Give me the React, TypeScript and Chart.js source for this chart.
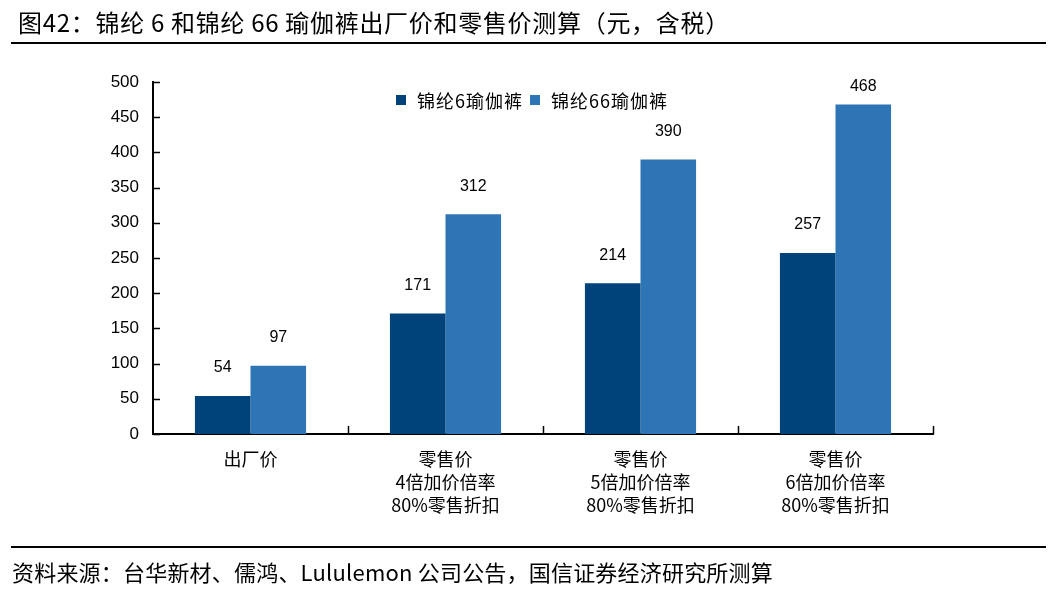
import React, { useEffect, useRef } from "react";
import { Chart, registerables } from "chart.js";

Chart.register(...registerables);

const categories: string[][] = [
  ["出厂价"],
  ["零售价", "4倍加价倍率", "80%零售折扣"],
  ["零售价", "5倍加价倍率", "80%零售折扣"],
  ["零售价", "6倍加价倍率", "80%零售折扣"],
];
const nylon6Values = [54, 171, 214, 257];
const nylon66Values = [97, 312, 390, 468];
const seriesNames = ["锦纶6瑜伽裤", "锦纶66瑜伽裤"];
const seriesColors = ["#00427A", "#2E75B6"];
const yMin = 0;
const yMax = 500;
const yStep = 50;

const titleText = "图42：锦纶 6 和锦纶 66 瑜伽裤出厂价和零售价测算（元，含税）";
const sourceText = "资料来源：台华新材、儒鸿、Lululemon 公司公告，国信证券经济研究所测算";

const FONT_LATIN = '"Liberation Sans", Arial, "Noto Sans CJK SC", sans-serif';
const FONT_CJK = '"Noto Sans CJK SC", "Liberation Sans", sans-serif';

const overlayPlugin = {
  id: "overlay",
  afterDraw(chart: any) {
    const ctx = chart.ctx as CanvasRenderingContext2D;
    const xs = chart.scales.x;
    const ys = chart.scales.y;
    ctx.save();
    ctx.strokeStyle = "#000";
    ctx.lineWidth = 1.5;
    // inward y ticks
    ys.ticks.forEach((t: any) => {
      const py = Math.round(ys.getPixelForValue(t.value)) + 0.5;
      ctx.beginPath();
      ctx.moveTo(xs.left, py);
      ctx.lineTo(xs.left + 7, py);
      ctx.stroke();
    });
    // inward x ticks at category boundaries
    const n = categories.length;
    for (let i = 1; i <= n; i++) {
      const px = Math.round(xs.left + ((xs.right - xs.left) * i) / n) + 0.5;
      ctx.beginPath();
      ctx.moveTo(px, ys.bottom);
      ctx.lineTo(px, ys.bottom - 8);
      ctx.stroke();
    }
    // data labels
    ctx.fillStyle = "#000";
    ctx.font = `16px ${FONT_LATIN}`;
    ctx.textAlign = "center";
    ctx.textBaseline = "middle";
    chart.data.datasets.forEach((ds: any, di: number) => {
      const meta = chart.getDatasetMeta(di);
      meta.data.forEach((el: any, i: number) => {
        const yPos = Math.max(el.y - 28, chart.chartArea.top + 5);
        ctx.fillText(String(ds.data[i]), el.x, yPos);
      });
    });
    ctx.restore();
  },
};

export default function App() {
  const canvasRef = useRef<HTMLCanvasElement | null>(null);

  useEffect(() => {
    document.body.style.margin = "0";
    const canvas = canvasRef.current;
    if (!canvas) return;
    const chart = new Chart(canvas, {
      type: "bar",
      data: {
        labels: categories,
        datasets: [
          {
            label: seriesNames[0],
            data: nylon6Values,
            backgroundColor: seriesColors[0],
            categoryPercentage: 0.57,
            barPercentage: 1,
          },
          {
            label: seriesNames[1],
            data: nylon66Values,
            backgroundColor: seriesColors[1],
            categoryPercentage: 0.57,
            barPercentage: 1,
          },
        ],
      },
      options: {
        animation: false,
        responsive: false,
        maintainAspectRatio: false,
        layout: { padding: { left: 0, right: 124, top: 82, bottom: 0 } },
        plugins: {
          legend: { display: false },
          tooltip: { enabled: false },
          title: { display: false },
        },
        scales: {
          x: {
            offset: true,
            grid: { display: false, drawTicks: false },
            border: { display: true, color: "#000", width: 2 },
            ticks: {
              color: "#000",
              padding: 13,
              maxRotation: 0,
              autoSkip: false,
              font: { family: FONT_CJK, size: 18, lineHeight: 1.3 },
            },
            afterFit(scale: any) {
              scale.height = 164;
            },
          },
          y: {
            min: yMin,
            max: yMax,
            grid: { display: false, drawTicks: false },
            border: { display: true, color: "#000", width: 2 },
            ticks: {
              stepSize: yStep,
              color: "#000",
              padding: 14,
              font: { family: FONT_LATIN, size: 17 },
            },
            afterFit(scale: any) {
              scale.width = 153;
            },
          },
        },
      },
      plugins: [overlayPlugin],
    });
    return () => chart.destroy();
  }, []);

  return (
    <div style={{ position: "absolute", left: 0, top: 0, width: 1057, height: 598, background: "#fff", overflow: "hidden" }}>
      <canvas ref={canvasRef} width={1057} height={598} style={{ position: "absolute", left: 0, top: 0, width: 1057, height: 598 }} />
      <div style={{ position: "absolute", left: 18, top: 5, fontFamily: FONT_CJK, fontSize: 24, lineHeight: "34px", letterSpacing: "0.7px", color: "#000", whiteSpace: "nowrap" }}>
        {titleText}
      </div>
      <div style={{ position: "absolute", left: 11, top: 42, width: 1035, height: 2, background: "#000" }} />
      <div style={{ position: "absolute", left: 396, top: 88, display: "flex", alignItems: "center", fontFamily: FONT_CJK, fontSize: 18, lineHeight: "24px", letterSpacing: "1px", color: "#000", whiteSpace: "nowrap" }}>
        <span style={{ display: "inline-block", width: 10, height: 10, background: seriesColors[0], marginRight: 11 }} />
        <span style={{ marginRight: 7 }}>{seriesNames[0]}</span>
        <span style={{ display: "inline-block", width: 10, height: 10, background: seriesColors[1], marginRight: 11 }} />
        <span>{seriesNames[1]}</span>
      </div>
      <div style={{ position: "absolute", left: 11, top: 546, width: 1035, height: 1.5, background: "#000" }} />
      <div style={{ position: "absolute", left: 12, top: 556, fontFamily: FONT_CJK, fontSize: 22, lineHeight: "30px", letterSpacing: "0.2px", color: "#000", whiteSpace: "nowrap" }}>
        {sourceText}
      </div>
    </div>
  );
}
